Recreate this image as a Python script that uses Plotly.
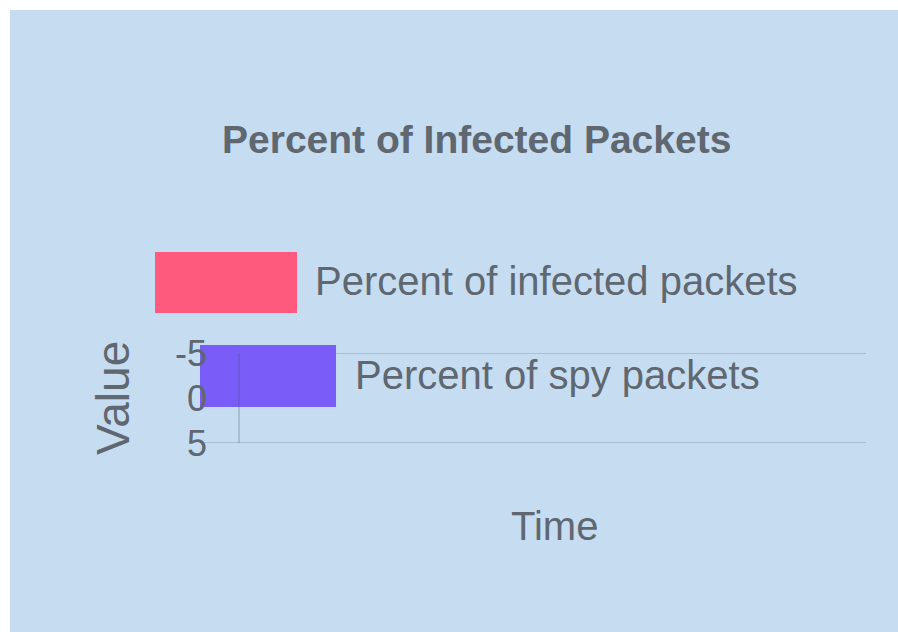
import plotly.graph_objects as go

# ---- data ----
chart_title = "Percent of Infected Packets"
series_names = ["Percent of infected packets", "Percent of spy packets"]
series_colors = ["#fd5a7e", "#7a5cf8"]
categories = []                      # no time points in the chart
series_values = [[], []]             # both series are empty
y_tick_vals = [-5, 0, 5]
y_tick_text = ["-5", "0", "5"]
x_title = "Time"
y_title = "Value"

W, H = 898, 632
L, R, T, B = 240, 866, 353, 443     # plot area in pixels

FONT = "Liberation Sans, Arial, sans-serif"
TXT = "#5f6770"
BG = "#c6dcf0"
GRID = "rgba(60,85,110,0.22)"

def px(x):
    return (x - L) / (R - L)

def py(y):
    return (B - y) / (B - T)

fig = go.Figure()
for name, vals, col in zip(series_names, series_values, series_colors):
    fig.add_trace(go.Bar(x=categories, y=vals, name=name, marker_color=col,
                         showlegend=False))

shapes = [
    # white frame at the top and left of the chart panel
    dict(type="rect", xref="paper", yref="paper", x0=px(-5), x1=px(W + 5),
         y0=py(10), y1=py(-5), fillcolor="white", line_width=0, layer="below"),
    dict(type="rect", xref="paper", yref="paper", x0=px(-5), x1=px(10),
         y0=py(H + 5), y1=py(-5), fillcolor="white", line_width=0, layer="below"),
]
# horizontal grid lines at the outer ticks
for v in (y_tick_vals[0], y_tick_vals[-1]):
    shapes.append(dict(type="line", xref="paper", yref="y", x0=px(200), x1=1,
                       y0=v, y1=v, line=dict(color=GRID, width=2), layer="below"))

# legend boxes and labels (large legend as in the original)
legend_boxes = [(155, 297, 252, 313, 313, 281), (200, 336, 345, 407, 353, 375)]
annotations = []
for (x0, x1, y0, y1, tx, ty), name, col in zip(legend_boxes, series_names, series_colors):
    shapes.append(dict(type="rect", xref="paper", yref="paper", x0=px(x0), x1=px(x1),
                       y0=py(y1), y1=py(y0), fillcolor=col, line_width=0, layer="below"))
    annotations.append(dict(text=name, xref="paper", yref="paper", x=px(tx), y=py(ty),
                            xanchor="left", yanchor="middle", showarrow=False,
                            font=dict(family=FONT, size=40, color=TXT)))

annotations += [
    dict(text="<b>" + chart_title + "</b>", xref="paper", yref="paper", x=px(476), y=py(139),
         xanchor="center", yanchor="middle", showarrow=False,
         font=dict(family=FONT, size=39, color=TXT)),
    dict(text=x_title, xref="paper", yref="paper", x=px(554), y=py(526),
         xanchor="center", yanchor="middle", showarrow=False,
         font=dict(family=FONT, size=40, color=TXT)),
    dict(text=y_title, xref="paper", yref="paper", x=px(113), y=py(398), textangle=-90,
         xanchor="center", yanchor="middle", showarrow=False,
         font=dict(family=FONT, size=46, color=TXT)),
]

fig.update_layout(
    width=W, height=H,
    margin=dict(l=L, r=W - R, t=T, b=H - B, pad=0),
    paper_bgcolor=BG, plot_bgcolor="rgba(0,0,0,0)",
    shapes=shapes, annotations=annotations, showlegend=False,
    xaxis=dict(showticklabels=False, showgrid=False, zeroline=False, showline=False,
               ticks="", range=[0, 1]),
    yaxis=dict(range=[5, -5], tickvals=y_tick_vals, ticktext=y_tick_text,
               showgrid=False, zeroline=False, showline=True,
               linecolor=GRID, linewidth=1.5,
               ticks="outside", ticklen=24, tickcolor="rgba(0,0,0,0)",
               tickfont=dict(family=FONT, size=36, color=TXT)),
)

fig.write_html("out.html")
